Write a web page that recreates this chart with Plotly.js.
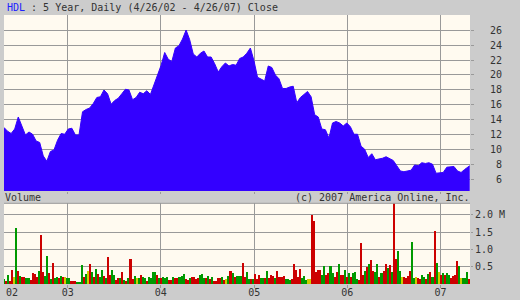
<!DOCTYPE html>
<html><head><meta charset="utf-8">
<script src="https://cdn.plot.ly/plotly-3.0.1.min.js"></script>
<style>html,body{margin:0;padding:0;background:#cccccc;}#chart{width:520px;height:300px;}</style>
</head><body><div id="chart"></div>
<script>
const symbol = 'HDL';
const titleRest = ' : 5 Year, Daily (4/26/02 - 4/26/07) Close';
const startDate = '2002-04-26';
const endDate = '2007-04-26';
const closeStepDays = 14;
// biweekly closes from 4/26/02, last value is the close of 4/26/07
const closeValues = [
 13.0, 12.5, 12.2, 12.8, 14.4, 13.2, 12.0, 12.4, 12.1, 11.2,
 11.0, 9.2, 8.5, 9.8, 10.0, 11.3, 12.2, 12.1, 12.8, 12.9,
 12.0, 12.0, 15.1, 15.4, 15.6, 16.2, 17.0, 17.1, 18.0, 17.5,
 16.1, 16.6, 16.9, 17.5, 18.1, 18.0, 16.7, 17.0, 17.7, 17.5,
 17.9, 17.4, 18.7, 20.2, 21.3, 23.0, 22.1, 21.8, 23.6, 23.9,
 24.8, 26.0, 24.7, 22.8, 22.4, 22.9, 23.2, 22.4, 22.4, 21.5,
 20.4, 21.1, 21.6, 21.2, 21.4, 21.3, 22.2, 22.4, 22.9, 23.6,
 21.9, 19.7, 19.4, 19.2, 21.2, 21.0, 20.0, 19.5, 18.2, 18.2,
 18.4, 18.5, 16.3, 17.0, 17.4, 17.8, 17.1, 14.7, 14.4, 12.8,
 12.7, 11.6, 13.6, 13.8, 13.6, 13.2, 13.6, 13.1, 12.1, 12.1,
 10.5, 10.1, 9.0, 9.5, 8.7, 8.8, 8.9, 9.1, 8.8, 8.6,
 7.9, 7.2, 7.1, 7.2, 7.3, 8.0, 7.9, 8.3, 8.2, 8.3,
 8.1, 6.9, 7.0, 7.0, 7.7, 7.7, 7.8, 7.2, 7.0, 7.4,
 7.7, 7.9
];
const volumeStepDays = 8;
// volume in millions of shares
const volumeValues = [
 0.14,0.10,0.25,0.10,0.40,0.20,1.62,0.38,0.22,0.20,
 0.20,0.16,0.16,0.12,0.31,0.30,0.20,0.38,1.42,0.36,
 0.22,0.81,0.31,0.15,0.61,0.16,0.20,0.16,0.24,0.21,
 0.21,0.18,0.18,0.10,0.09,0.08,0.05,0.07,0.55,0.21,
 0.28,0.37,0.58,0.35,0.21,0.43,0.29,0.21,0.40,0.24,
 0.16,0.78,0.26,0.40,0.26,0.12,0.18,0.16,0.36,0.12,
 0.10,0.18,0.72,0.14,0.23,0.18,0.18,0.26,0.20,0.18,
 0.09,0.21,0.16,0.35,0.35,0.26,0.18,0.16,0.21,0.18,
 0.21,0.12,0.12,0.20,0.16,0.17,0.20,0.24,0.28,0.14,
 0.12,0.18,0.21,0.19,0.14,0.16,0.26,0.29,0.16,0.18,
 0.24,0.14,0.20,0.09,0.10,0.17,0.18,0.20,0.12,0.14,
 0.22,0.38,0.31,0.20,0.23,0.22,0.24,0.60,0.21,0.34,
 0.14,0.14,0.14,0.28,0.14,0.25,0.16,0.16,0.16,0.37,
 0.18,0.26,0.23,0.18,0.37,0.21,0.21,0.22,0.14,0.14,
 0.12,0.14,0.57,0.40,0.21,0.43,0.16,0.23,0.12,0.14,
 0.14,2.00,1.82,0.36,0.40,0.40,0.26,0.52,0.26,0.31,
 0.52,0.31,0.21,0.36,0.57,0.26,0.26,0.40,0.21,0.31,
 0.21,0.31,0.36,0.14,0.12,1.19,0.26,0.38,0.48,0.57,
 0.69,0.38,0.36,0.58,0.21,0.31,0.38,0.58,0.45,0.55,
 0.36,2.50,0.72,0.95,0.38,0.21,0.21,0.16,0.24,0.38,
 1.22,0.16,0.20,0.16,0.14,0.26,0.21,0.14,0.29,0.36,
 0.21,1.53,0.62,0.36,0.26,0.31,0.26,0.31,0.26,0.16,
 0.24,0.26,0.65,0.52,0.18,0.18,0.18,0.36,0.14
];
// g = up day, r = down day, y = unchanged
const volumeDirs = 'grgrrygrgr' + 'rggrrrrgrr' + 'ggrgrggrgr' + 'yggrrrgggr' + 'gyrgrgrggr' +
 'grrggrrgrg' + 'rgrrgygrgg' + 'rggggrgrgg' + 'grrgrrgggr' + 'rgrrrrgggr' +
 'grgrrrrgry' + 'grgrgggrrg' + 'grgrrrggrg' + 'rrrgrrrrgg' + 'grrrrrgggy' +
 'yrrrrrggrr' + 'ggrrgrrgrg' + 'rgggrrrgrg' + 'rrggrgrrgr' + 'grrggyrrrr' +
 'ggyrrggrgr' + 'grgyrgrggr' + 'rrrgygggr';
const yearTickDates = ['2003-01-01','2004-01-01','2005-01-01','2006-01-01','2007-01-01'];
const yearTickLabels = ['03','04','05','06','07'];
const firstYearLabel = '02';
const priceTicks = [6,8,10,12,14,16,18,20,22,24,26];
const volumeTicks = [0.5,1.0,1.5,2.0];
const volumeTickLabels = ['0.5','1.0','1.5','2.0 M'];
const volumeLabel = 'Volume';
const copyright = '(c) 2007 America Online, Inc.';

const DAY = 86400000;
const t0 = Date.parse(startDate + 'T00:00:00Z');
function dayStr(n){ return new Date(t0 + n*DAY).toISOString().slice(0,10); }
const closeDates = closeValues.map((v,i)=> i === closeValues.length-1 ? endDate : dayStr(i*closeStepDays));
const volumeDates = volumeValues.map((v,i)=> dayStr(i*volumeStepDays));
const dirColor = {g:'#009900', r:'#cc0000', y:'#cccc00'};
const volumeColors = volumeValues.map((v,i)=> dirColor[volumeDirs[i]]);
const priceTickText = priceTicks.map(v => (v < 10 ? '\u00a0' : '') + v);

const FONT = 'DejaVu Sans Mono, Liberation Mono, monospace';
const rangeX = [startDate, '2007-04-27'];

const traces = [
 {type:'scatter', mode:'lines', x:closeDates, y:closeValues, xaxis:'x', yaxis:'y',
  line:{color:'#3300ff', width:1}, fill:'tozeroy', fillcolor:'#3300ff', hoverinfo:'skip'},
 {type:'bar', x:volumeDates, y:volumeValues, xaxis:'x2', yaxis:'y2',
  width: volumeStepDays*DAY, marker:{color:volumeColors, line:{width:0}}, hoverinfo:'skip'}
];

const gridC = '#999999';
const layout = {
 width:520, height:300,
 margin:{l:4, r:50, t:15, b:16, pad:0},
 paper_bgcolor:'#cccccc', plot_bgcolor:'#fffaf0',
 font:{family:FONT, size:10, color:'#333333'},
 showlegend:false, bargap:0,
 xaxis:{type:'date', range:rangeX, anchor:'y', domain:[0,1], tickvals:yearTickDates,
  showticklabels:false, showgrid:true, gridcolor:gridC, gridwidth:1, ticks:'outside', ticklen:2,
  tickcolor:gridC, zeroline:false, showline:false, fixedrange:true},
 yaxis:{domain:[0.3457,1], range:[4.53,28], side:'right', anchor:'x', tickvals:priceTicks, ticktext:priceTickText,
  showgrid:true, gridcolor:gridC, gridwidth:1, ticks:'outside', ticklen:3, tickcolor:gridC,
  ticklabelstandoff:14, zeroline:false, showline:false, fixedrange:true,
  tickfont:{family:FONT, size:10, color:'#333333'}},
 xaxis2:{type:'date', range:rangeX, anchor:'y2', domain:[0,1], tickvals:yearTickDates, ticktext:yearTickLabels,
  showgrid:true, gridcolor:gridC, gridwidth:1, ticks:'outside', ticklen:3, tickcolor:gridC,
  ticklabelstandoff:-4,
  zeroline:false, showline:false, fixedrange:true, tickfont:{family:FONT, size:10, color:'#333333'}},
 yaxis2:{domain:[0,0.3], range:[0,2.33], side:'right', anchor:'x2', tickvals:volumeTicks, ticktext:volumeTickLabels,
  showgrid:true, gridcolor:gridC, gridwidth:1, ticks:'outside', ticklen:2, tickcolor:gridC,
  zeroline:false, showline:false, fixedrange:true, tickfont:{family:FONT, size:10, color:'#333333'}},
 shapes:[
  {type:'line', xref:'paper', yref:'y2 domain', x0:0, x1:1, y0:1, y1:1, line:{color:gridC, width:1}}
 ],
 annotations:[
  {xref:'paper', yref:'paper', x:0, y:1, xanchor:'left', yanchor:'bottom', xshift:1, yshift:0, showarrow:false,
   text:'<span style="color:#2020ff">'+symbol+'</span>'+titleRest, font:{family:FONT, size:10, color:'#333333'}},
  {xref:'paper', yref:'paper', x:0, y:0.3, xanchor:'left', yanchor:'bottom', xshift:-1, yshift:-2, showarrow:false,
   text:volumeLabel, font:{family:FONT, size:10, color:'#333333'}},
  {xref:'paper', yref:'paper', x:1, y:0.3, xanchor:'right', yanchor:'bottom', xshift:2, yshift:-2, showarrow:false,
   text:copyright, font:{family:FONT, size:10, color:'#333333'}},
  {xref:'paper', yref:'paper', x:0, y:0, xanchor:'left', yanchor:'top', xshift:0, yshift:-1, showarrow:false,
   text:firstYearLabel, font:{family:FONT, size:10, color:'#333333'}}
 ]
};
Plotly.newPlot('chart', traces, layout, {displayModeBar:false, staticPlot:true});
</script>
</body></html>
